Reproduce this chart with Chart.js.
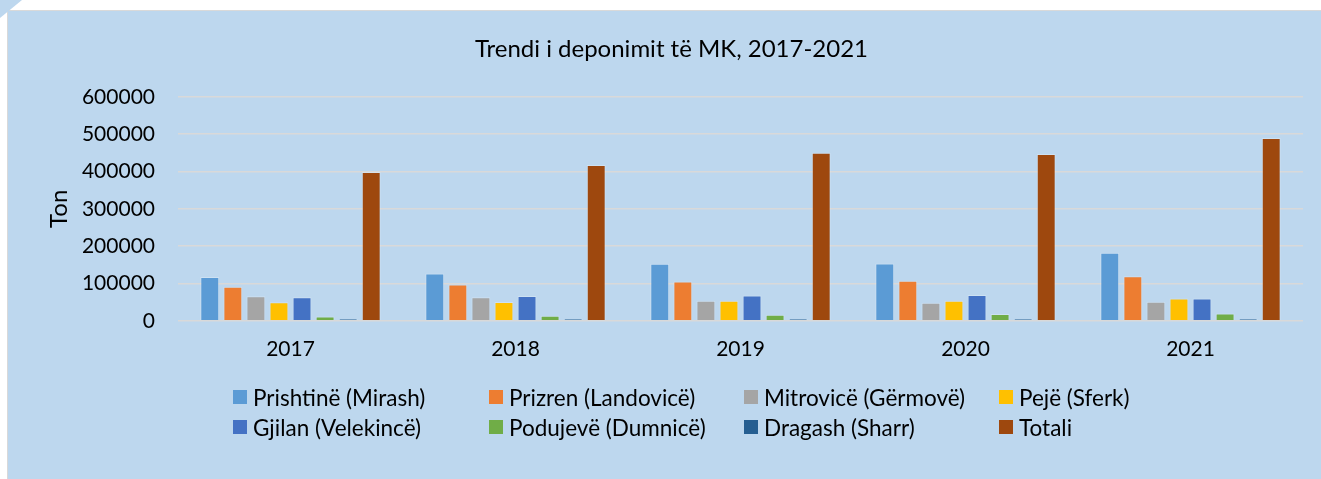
<!DOCTYPE html>
<html>
<head>
<meta charset="utf-8">
<script src="https://cdn.jsdelivr.net/npm/chart.js@4/dist/chart.umd.min.js"></script>
<style>
    html, body { margin: 0; padding: 0; background: #ffffff; }
    body { width: 1321px; height: 479px; position: relative; overflow: hidden; font-family: Lato, "Open Sans", sans-serif; }
    #panel { position: absolute; left: 7px; top: 10px; right: 0; bottom: 0; background: #bdd7ee; border-left: 1px solid #d9d9d9; border-top: 1px solid #d9d9d9; }
    #corner { position: absolute; left: 0; top: 0; width: 22px; height: 18px; background: #bdd7ee; clip-path: polygon(0 0, 100% 0, 0 100%); }
    #chart { position: absolute; left: 0; top: 0; width: 1321px; height: 479px; }
    #legend { position: absolute; left: 233px; top: 385px; width: 1030px; display: grid; grid-template-columns: 256px 255px 255px 255px; row-gap: 6px; }
    .item { display: flex; align-items: center; height: 24px; font-size: 22.5px; color: #000; white-space: nowrap; }
    .box { width: 14px; height: 14px; margin-right: 6px; flex: none; }
</style>
</head>
<body>
<div id="panel"></div>
<div id="corner"></div>
<canvas id="chart" width="1321" height="479"></canvas>
<div id="legend"></div>

<script>
// Datos (toneladas)
const years = ['2017', '2018', '2019', '2020', '2021'];
const prishtine = [117000, 126500, 152500, 153500, 182000];
const prizren = [91500, 97000, 105000, 107000, 119500];
const mitrovice = [65500, 63000, 54000, 48500, 51000];
const peje = [49500, 50500, 53500, 54000, 59500];
const gjilan = [63000, 66500, 67500, 69000, 59500];
const podujeve = [11500, 13500, 16000, 18000, 19500];
const dragash = [4500, 5000, 5000, 5000, 5500];
const totali = [398500, 417000, 450000, 447000, 489500];

const seriesNames = ['Prishtinë (Mirash)', 'Prizren (Landovicë)', 'Mitrovicë (Gërmovë)', 'Pejë (Sferk)',
    'Gjilan (Velekincë)', 'Podujevë (Dumnicë)', 'Dragash (Sharr)', 'Totali'];
const seriesData = [prishtine, prizren, mitrovice, peje, gjilan, podujeve, dragash, totali];
const seriesColors = ['#5b9bd5', '#ed7d31', '#a5a5a5', '#ffc000', '#4472c4', '#70ad47', '#255e91', '#9e480e'];

const yTicks = [0, 100000, 200000, 300000, 400000, 500000, 600000];

const font = 'Lato, "Open Sans", sans-serif';

let ctx = document.getElementById('chart').getContext('2d');
let chart = new Chart(ctx, {
    type: 'bar',
    data: {
        labels: years,
        datasets: seriesNames.map((name, i) => ({
            label: name,
            data: seriesData[i],
            backgroundColor: seriesColors[i],
            borderColor: 'rgba(255,255,255,0.25)',
            borderWidth: 1,
            categoryPercentage: 0.82,
            barPercentage: 0.82
        }))
    },
    options: {
        responsive: false,
        animation: false,
        devicePixelRatio: 1,
        layout: { padding: { left: 40, right: 18, top: 0, bottom: 101 } },
        plugins: {
            legend: { display: false },
            tooltip: { enabled: false },
            title: {
                display: true,
                text: 'Trendi i deponimit të MK, 2017-2021',
                color: '#000',
                font: { family: font, size: 24, weight: 'normal' },
                padding: { top: 35, bottom: 33 }
            }
        },
        scales: {
            x: {
                grid: { display: false, drawTicks: false },
                border: { display: false },
                ticks: { color: '#000', font: { family: font, size: 21 }, padding: 16 }
            },
            y: {
                min: 0,
                max: 600000,
                afterBuildTicks: scale => { scale.ticks = yTicks.map(v => ({ value: v })); },
                afterFit: scale => { scale.width = 138; },
                grid: { color: '#d9d9d9', lineWidth: 1.5, drawTicks: false },
                border: { display: false },
                ticks: { color: '#000', font: { family: font, size: 21 }, padding: 23, callback: v => String(v) },
                title: {
                    display: true,
                    text: 'Ton',
                    color: '#000',
                    font: { family: font, size: 24, weight: 'normal' },
                    padding: { top: 5, bottom: 0 }
                }
            }
        }
    }
});

// Leyenda en columnas, construida desde los datasets
function mostrarLeyenda() {
    let legendDiv = document.getElementById('legend');
    legendDiv.innerHTML = '';
    chart.data.datasets.forEach(ds => {
        let item = document.createElement('div');
        item.className = 'item';
        let box = document.createElement('span');
        box.className = 'box';
        box.style.background = ds.backgroundColor;
        item.appendChild(box);
        item.appendChild(document.createTextNode(ds.label));
        legendDiv.appendChild(item);
    });
}
mostrarLeyenda();
</script>
</body>
</html>
